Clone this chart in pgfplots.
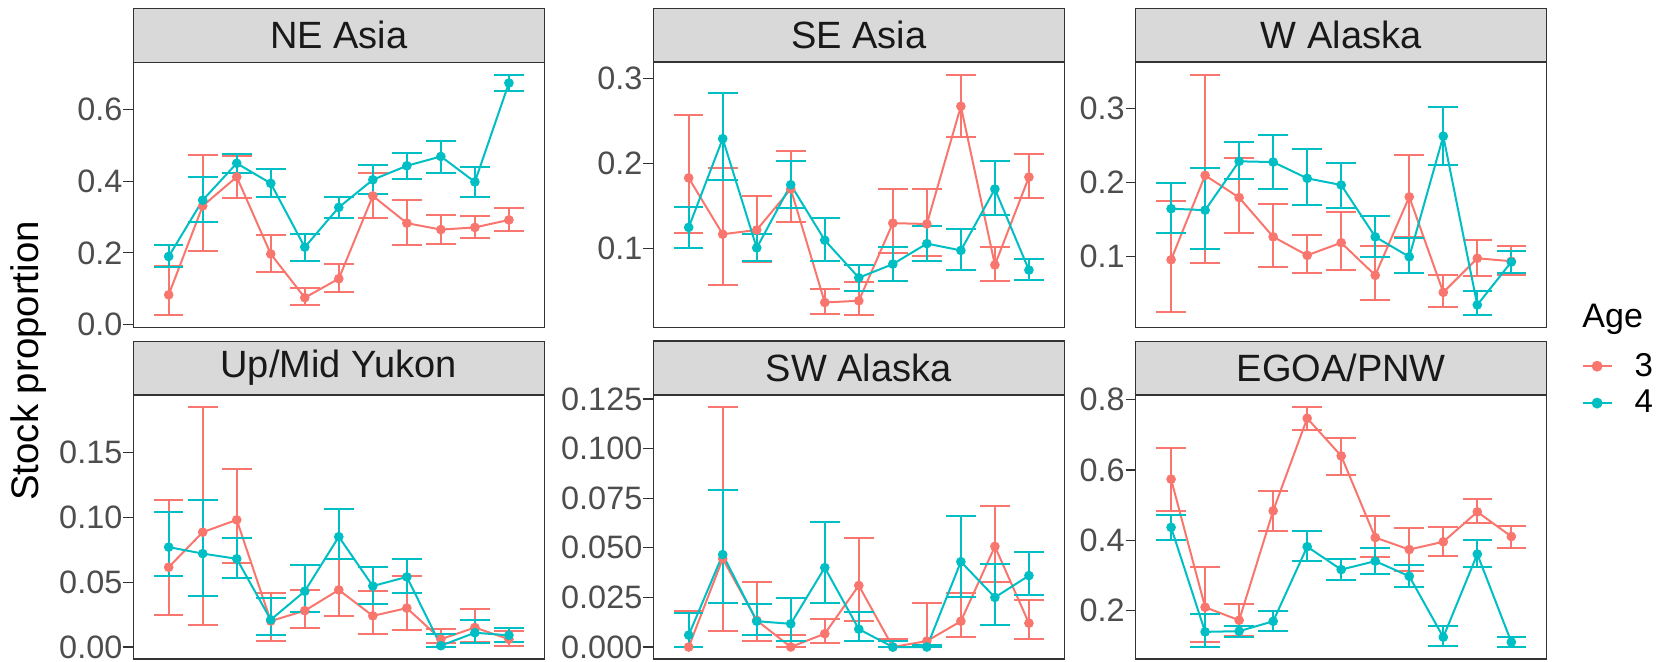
\documentclass[border=0pt]{standalone}
\usepackage{pgfplots}
\pgfplotsset{compat=1.18}
\usepackage{pgfplotstable}
\usepackage{fontspec}
\setmainfont{Liberation Sans}
\definecolor{cA}{HTML}{F8766D}
\definecolor{cB}{HTML}{00BFC4}
\definecolor{stripfill}{HTML}{D9D9D9}
\definecolor{bord}{HTML}{333333}
\definecolor{ticklab}{HTML}{4D4D4D}

% columns: x y lo hi
\pgfplotstableread{
x y lo hi
1 0.083 0.026 0.163
2 0.331 0.204 0.472
3 0.412 0.352 0.470
4 0.197 0.148 0.251
5 0.075 0.056 0.102
6 0.128 0.091 0.168
7 0.359 0.298 0.424
8 0.283 0.222 0.347
9 0.265 0.224 0.306
10 0.271 0.241 0.304
11 0.292 0.262 0.324
}\neA
\pgfplotstableread{
x y lo hi
1 0.190 0.162 0.222
2 0.347 0.285 0.413
3 0.450 0.424 0.475
4 0.394 0.355 0.435
5 0.216 0.177 0.253
6 0.327 0.296 0.356
7 0.404 0.364 0.444
8 0.443 0.406 0.478
9 0.469 0.424 0.512
10 0.398 0.356 0.440
11 0.674 0.653 0.697
}\neB
\pgfplotstableread{
x y lo hi
1 0.183 0.119 0.257
2 0.117 0.057 0.195
3 0.122 0.085 0.162
4 0.170 0.131 0.214
5 0.037 0.023 0.053
6 0.039 0.022 0.061
7 0.130 0.095 0.170
8 0.129 0.091 0.170
9 0.267 0.231 0.304
10 0.081 0.062 0.102
11 0.184 0.159 0.211
}\seA
\pgfplotstableread{
x y lo hi
1 0.125 0.101 0.149
2 0.229 0.181 0.282
3 0.101 0.086 0.117
4 0.175 0.148 0.203
5 0.110 0.086 0.136
6 0.066 0.051 0.081
7 0.082 0.062 0.102
8 0.106 0.086 0.127
9 0.098 0.075 0.123
10 0.170 0.139 0.203
11 0.075 0.063 0.088
}\seB
\pgfplotstableread{
x y lo hi
1 0.096 0.026 0.176
2 0.210 0.091 0.346
3 0.180 0.132 0.234
4 0.127 0.086 0.172
5 0.102 0.078 0.130
6 0.119 0.082 0.160
7 0.075 0.042 0.114
8 0.181 0.127 0.237
9 0.052 0.032 0.075
10 0.098 0.074 0.123
11 0.094 0.075 0.115
}\waA
\pgfplotstableread{
x y lo hi
1 0.165 0.132 0.200
2 0.163 0.110 0.220
3 0.229 0.205 0.255
4 0.228 0.192 0.265
5 0.206 0.170 0.245
6 0.197 0.166 0.227
7 0.127 0.100 0.155
8 0.100 0.078 0.126
9 0.263 0.224 0.303
10 0.035 0.021 0.054
11 0.093 0.078 0.108
}\waB
\pgfplotstableread{
x y lo hi
1 0.0615 0.025 0.113
2 0.0885 0.017 0.185
3 0.098 0.065 0.137
4 0.020 0.005 0.042
5 0.028 0.015 0.044
6 0.044 0.024 0.068
7 0.024 0.010 0.043
8 0.030 0.013 0.055
9 0.006 0.003 0.014
10 0.015 0.004 0.029
11 0.006 0.001 0.012
}\ymA
\pgfplotstableread{
x y lo hi
1 0.077 0.055 0.104
2 0.072 0.039 0.113
3 0.068 0.053 0.084
4 0.021 0.009 0.038
5 0.043 0.027 0.063
6 0.085 0.068 0.106
7 0.047 0.033 0.062
8 0.054 0.042 0.068
9 0.001 0.000 0.010
10 0.011 0.003 0.021
11 0.009 0.004 0.015
}\ymB
\pgfplotstableread{
x y lo hi
1 0.000 0.000 0.018
2 0.0445 0.008 0.121
3 0.0134 0.003 0.033
4 0.000 0.000 0.006
5 0.0067 0.002 0.014
6 0.031 0.013 0.055
7 0.000 0.000 0.004
8 0.003 0.000 0.022
9 0.013 0.005 0.027
10 0.0507 0.033 0.071
11 0.012 0.004 0.0235
}\swA
\pgfplotstableread{
x y lo hi
1 0.006 0.000 0.017
2 0.0466 0.022 0.079
3 0.013 0.006 0.0215
4 0.0117 0.003 0.0247
5 0.040 0.022 0.063
6 0.009 0.003 0.0176
7 0.000 0.000 0.003
8 0.000 0.000 0.001
9 0.043 0.025 0.066
10 0.025 0.011 0.042
11 0.036 0.026 0.048
}\swB
\pgfplotstableread{
x y lo hi
1 0.574 0.484 0.662
2 0.210 0.111 0.324
3 0.173 0.128 0.220
4 0.484 0.427 0.541
5 0.747 0.715 0.779
6 0.640 0.587 0.692
7 0.408 0.352 0.470
8 0.374 0.314 0.435
9 0.396 0.357 0.438
10 0.481 0.449 0.517
11 0.411 0.379 0.442
}\egA
\pgfplotstableread{
x y lo hi
1 0.437 0.401 0.473
2 0.140 0.097 0.190
3 0.142 0.125 0.157
4 0.170 0.142 0.200
5 0.382 0.342 0.427
6 0.317 0.288 0.347
7 0.341 0.305 0.377
8 0.298 0.267 0.330
9 0.125 0.100 0.158
10 0.361 0.324 0.402
11 0.111 0.097 0.125
}\egB

\pgfplotsset{
  facet/.style={
    scale only axis, width=205.5pt, height=132.3pt,
    anchor=south west,
    xmin=-0.04, xmax=12.04, xtick=\empty,
    axis line style={draw=bord, line width=0.6pt},
    every tick/.style={draw=bord, line width=0.6pt},
    major tick length=5pt, tick align=outside, ytick pos=left,
    /pgf/number format/assume math mode=true,
    yticklabel style={font=\fontsize{16.2}{19}\selectfont, text=ticklab, inner sep=0pt, xshift=-0.3pt},
    every axis title shift=0pt,
    title style={at={(0.5,1)}, anchor=south, yshift=0pt, fill=stripfill, draw=bord,
      line width=0.6pt, minimum width=205.5pt, minimum height=26.7pt, inner sep=0pt,
      font=\fontsize{19}{22}\selectfont, text=black!90},
    legend image code/.code={\draw[#1, mark repeat=2, mark phase=2] plot coordinates {(0pt,0pt) (7.25pt,0pt) (14.5pt,0pt)};},
  },
  sA/.style={color=cA, line width=1pt, mark=*, mark size=2.2pt, mark options={solid, line width=0.4pt},
    error bars/.cd, y dir=both, y explicit,
    error bar style={line width=1pt, color=cA},
    error mark options={rotate=90, mark size=7.4pt, line width=1pt, color=cA}},
  sB/.style={color=cB, line width=1pt, mark=*, mark size=2.2pt, mark options={solid, line width=0.4pt},
    error bars/.cd, y dir=both, y explicit,
    error bar style={line width=1pt, color=cB},
    error mark options={rotate=90, mark size=7.4pt, line width=1pt, color=cB}},
}
\newcommand{\ser}[2]{\addplot[#1] table[x=x, y=y, y error plus expr=\thisrow{hi}-\thisrow{y}, y error minus expr=\thisrow{y}-\thisrow{lo}] {#2};}

\begin{document}
\begin{tikzpicture}
\useasboundingbox (0pt,0pt) rectangle (830pt,-331pt);

\begin{axis}[facet, at={(66.65pt,-163.65pt)}, title={NE Asia},
  ymin=-0.0076, ymax=0.7306, ytick={0,0.2,0.4,0.6}, yticklabels={0.0,0.2,0.4,0.6}]
\ser{sA}{\neA}
\ser{sB}{\neB}
\end{axis}

\begin{axis}[facet, at={(326.65pt,-163.65pt)}, title={SE Asia},
  ymin=0.0079, ymax=0.3181, ytick={0.1,0.2,0.3}, yticklabels={0.1,0.2,0.3}]
\ser{sA}{\seA}
\ser{sB}{\seB}
\end{axis}

\begin{axis}[facet, at={(567.85pt,-163.65pt)}, title={W Alaska},
  ymin=0.00475, ymax=0.36225, ytick={0.1,0.2,0.3}, yticklabels={0.1,0.2,0.3}]
\ser{sA}{\waA}
\ser{sB}{\waB}
\end{axis}

\begin{axis}[facet, height=132pt, title style={minimum height=26.65pt}, at={(66.65pt,-329.5pt)}, title={Up/Mid Yukon},
  ymin=-0.00925, ymax=0.19425, ytick={0,0.05,0.1,0.15}, yticklabels={0.00,0.05,0.10,0.15}]
\ser{sA}{\ymA}
\ser{sB}{\ymB}
\end{axis}

\begin{axis}[facet, height=132pt, title style={minimum height=26.65pt}, at={(326.65pt,-329.5pt)}, title={SW Alaska},
  ymin=-0.00605, ymax=0.12705, ytick={0,0.025,0.05,0.075,0.1,0.125}, yticklabels={0.000,0.025,0.050,0.075,0.100,0.125}]
\ser{sA}{\swA}
\ser{sB}{\swB}
\end{axis}

\begin{axis}[facet, height=132pt, title style={minimum height=26.65pt}, at={(567.85pt,-329.5pt)}, title={EGOA/PNW},
  ymin=0.0629, ymax=0.8131, ytick={0.2,0.4,0.6,0.8}, yticklabels={0.2,0.4,0.6,0.8},
  legend style={at={(1.084,1.175)}, anchor=north west, draw=none, fill=none,
    font=\fontsize{16.5}{19}\selectfont, row sep=1.5pt, column sep=9pt, inner sep=0pt},
  legend cell align=left]
\addlegendimage{color=cA, line width=1pt, mark=*, mark size=2.2pt}
\addlegendentry{3}
\addlegendimage{color=cB, line width=1pt, mark=*, mark size=2.2pt}
\addlegendentry{4}
\ser{sA}{\egA}
\ser{sB}{\egB}
\end{axis}

\node[anchor=base west, font=\fontsize{17}{20}\selectfont, inner sep=0pt] at (791pt,-164pt) {Age};
\node[rotate=90, font=\fontsize{19.2}{22}\selectfont, inner sep=0pt] at (14.5pt,-180.5pt) {Stock proportion};
\end{tikzpicture}
\end{document}
